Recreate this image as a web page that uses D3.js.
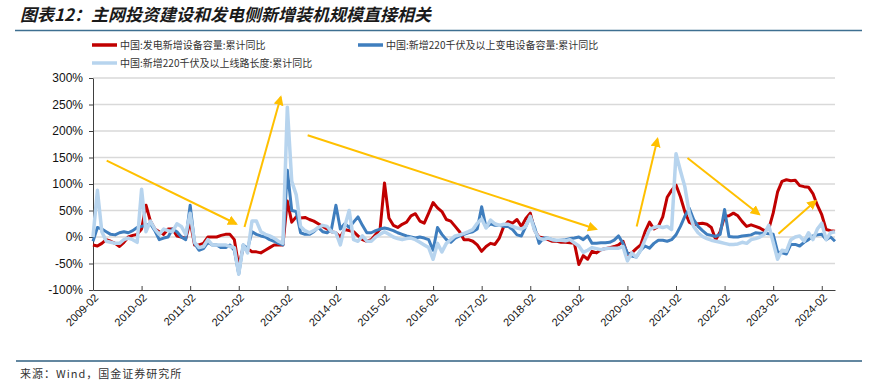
<!DOCTYPE html>
<html lang="zh">
<head>
<meta charset="UTF-8">
<title>图表12</title>
<script src="https://cdn.jsdelivr.net/npm/d3@7"></script>
<style>
body{margin:0;background:#fff;}
svg{display:block;font-family:"Liberation Sans",Arial,sans-serif;}
</style>
</head>
<body>
<div id="chart"></div>
<script>
// 月度累计同比(%)，每年2-12月（1月无数据）
var years=[2009,2010,2011,2012,2013,2014,2015,2016,2017,2018,2019,2020,2021,2022,2023,2024];
var months=["02","03","04","05","06","07","08","09","10","11","12"];
var yTicks=[-100,-50,0,50,100,150,200,250,300];

// 中国:发电新增设备容量:累计同比
var genYoY=[
 -15,-17,-12,-5,-8,-12,-18,-10,0,3,5,
 15,60,30,15,10,5,15,15,2,0,-3,
 30,-15,-15,-12,0,0,0,3,5,5,-5,
 -55,-20,-22,-28,-28,-30,-25,-20,-15,-15,-15,
 68,28,38,36,37,33,30,25,20,15,10,
 8,0,14,12,10,2,-5,-8,-5,5,15,
 102,36,22,18,24,28,40,44,30,26,45,
 65,55,48,33,30,20,10,-5,-5,-8,-15,
 -27,-18,-12,-14,-2,20,29,26,33,20,35,
 45,12,0,-2,-5,-8,-8,-10,-10,-11,-12,
 -52,-35,-42,-27,-30,-24,-22,-20,-18,-15,-8,
 -33,-30,-22,-15,10,28,15,20,38,75,88,
 98,76,48,28,23,25,26,24,18,-5,10,
 39,40,45,40,29,20,23,20,17,12,15,
 45,85,105,108,106,107,97,95,94,82,60,
 42,14,12,11
];
// 中国:新增220千伏及以上变电设备容量:累计同比
var subYoY=[
 -8,18,15,10,5,4,8,10,8,12,18,
 20,22,25,12,-5,-2,0,15,10,0,-5,
 60,-12,-25,-22,-10,-15,-15,-20,-20,-15,-25,
 -70,-15,-22,10,5,2,0,-5,-8,-12,-15,
 126,50,48,8,5,5,10,18,10,8,15,
 60,15,25,18,28,38,22,8,8,12,15,
 17,15,12,8,5,2,0,-2,0,-2,-5,
 -25,18,5,-5,-10,-2,2,5,8,10,15,
 57,18,25,22,22,20,20,14,4,2,20,
 39,18,-12,-2,-2,-5,-7,-6,-5,-3,-2,
 0,-5,2,-12,-12,-11,-11,-10,-6,2,-12,
 -30,-36,-38,-25,-17,-21,-12,-6,-6,-8,-5,
 4,20,39,54,33,20,12,5,3,1,5,
 52,1,0,0,2,3,4,8,7,7,6,
 5,-28,-30,-32,-14,-14,-17,-10,-5,2,4,
 5,-5,0,-8
];
// 中国:新增220千伏及以上线路长度:累计同比
var lineYoY=[
 0,88,10,-8,-10,-12,-12,-5,-2,-5,-10,
 90,10,30,15,5,15,12,10,25,20,5,
 45,-10,-20,-18,-5,-15,-15,-15,-15,-18,-20,
 -70,-15,-30,30,30,10,5,2,-2,-8,-12,
 245,105,80,20,12,8,12,18,22,20,10,
 8,-15,20,50,-5,-8,2,-8,-8,0,5,
 10,5,0,-3,-5,-3,-2,-5,-10,-15,-20,
 -42,-12,-28,-12,-5,2,4,7,10,14,26,
 34,17,32,25,22,24,24,20,17,15,20,
 39,12,-2,-5,-2,-5,-6,-6,-7,-5,-11,
 -17,-29,-25,-20,-22,-24,-22,-21,-21,-21,-18,
 -45,-30,-38,-25,-5,14,18,20,18,20,14,
 157,125,95,45,20,8,1,-3,-6,-8,-10,
 -12,-14,-14,-13,-10,-12,-5,-3,0,5,22,
 -10,-42,-25,-27,-5,0,2,-8,8,-5,15,
 26,-5,8,10
];

// 趋势箭头 [起点序号, 起点值, 终点序号, 终点值]
var arrows=[
 [3.1,144,32.4,25],
 [34.3,19,42.5,264],
 [48.6,192,113.9,15],
 [123.1,20,127.8,185],
 [134.6,149,150.8,43],
 [155.2,6,163.6,68]
];

var categories=[];
years.forEach(function(yr){
  months.forEach(function(m){ categories.push(yr+"-"+m); });
});
categories=categories.slice(0,genYoY.length);

var series=[
  {name:"中国:发电新增设备容量:累计同比",values:genYoY,color:"#C00000",w:3},
  {name:"中国:新增220千伏及以上变电设备容量:累计同比",values:subYoY,color:"#3F7EBE",w:3},
  {name:"中国:新增220千伏及以上线路长度:累计同比",values:lineYoY,color:"#B7D4EE",w:3.5}
];

var W=877,H=392;
var svg=d3.select("#chart").append("svg").attr("width",W).attr("height",H);

// 标题
svg.append("text")
  .attr("x",20).attr("y",21)
  .style("font-family","'Noto Sans CJK SC',sans-serif")
  .style("font-weight","bold").style("font-style","italic")
  .style("font-size","17px")
  .attr("fill","#1a1a1a")
  .text("图表12：主网投资建设和发电侧新增装机规模直接相关");
svg.append("line").attr("x1",15).attr("x2",862).attr("y1",30.5).attr("y2",30.5)
  .attr("stroke","#3E6F91").attr("stroke-width",1.5);

var x=d3.scaleLinear().domain([0,categories.length-1]).range([93,835]);
var y=d3.scaleLinear().domain([-100,300]).range([290,78]);

// 网格线
svg.append("g").selectAll("line")
  .data(yTicks.filter(function(d){return d>-100;}))
  .join("line")
  .attr("x1",93).attr("x2",835)
  .attr("y1",function(d){return y(d);}).attr("y2",function(d){return y(d);})
  .attr("stroke","#D9D9D9").attr("stroke-width",1.5);

// 坐标轴
var yAxis=svg.append("g").attr("transform","translate(93,0)")
  .call(d3.axisLeft(y).tickValues(yTicks).tickSize(4).tickSizeOuter(0).tickPadding(6)
    .tickFormat(function(d){return d+"%";}));
yAxis.selectAll("text").style("font-size","12px").attr("fill","#111");
yAxis.selectAll("line,path").attr("stroke","#404040");

var febIdx=[];
categories.forEach(function(c,i){ if(c.slice(5)==="02") febIdx.push(i); });
var xAxis=svg.append("g").attr("transform","translate(0,290)")
  .call(d3.axisBottom(x).tickValues(febIdx).tickSize(-4).tickSizeOuter(0)
    .tickFormat(function(i){return categories[i];}));
xAxis.selectAll("line,path").attr("stroke","#404040");
xAxis.selectAll("text")
  .style("font-size","11px").attr("fill","#111")
  .attr("text-anchor","end")
  .attr("x",-2).attr("y",6).attr("dy","0.35em")
  .attr("transform","rotate(-45)");

// 折线
var line=d3.line().x(function(d,i){return x(i);}).y(function(d){return y(d);});
svg.append("g").selectAll("path")
  .data(series).join("path")
  .attr("d",function(s){return line(s.values);})
  .attr("fill","none")
  .attr("stroke",function(s){return s.color;})
  .attr("stroke-width",function(s){return s.w;})
  .attr("stroke-linejoin","round");

// 箭头
svg.append("defs").append("marker")
  .attr("id","ah").attr("viewBox","0 0 10 10")
  .attr("refX",8).attr("refY",5)
  .attr("markerWidth",5).attr("markerHeight",5)
  .attr("markerUnits","strokeWidth")
  .attr("orient","auto")
  .append("path").attr("d","M0,0L10,5L0,10Z").attr("fill","#FFC000");
svg.append("g").selectAll("line")
  .data(arrows).join("line")
  .attr("x1",function(a){return x(a[0]);}).attr("y1",function(a){return y(a[1]);})
  .attr("x2",function(a){return x(a[2]);}).attr("y2",function(a){return y(a[3]);})
  .attr("stroke","#FFC000").attr("stroke-width",2)
  .attr("marker-end","url(#ah)");

// 图例
var legendPos=[[92,45],[358,45],[92,63]];
var lg=svg.append("g").selectAll("g")
  .data(series).join("g")
  .attr("transform",function(s,i){return "translate("+legendPos[i][0]+","+legendPos[i][1]+")";});
lg.append("line").attr("x1",0).attr("x2",25)
  .attr("stroke",function(s){return s.color;}).attr("stroke-width",3.5);
lg.append("text").attr("x",28).attr("dy","0.35em")
  .style("font-family","'Noto Sans CJK SC',sans-serif")
  .style("font-size","10px").attr("fill","#333")
  .text(function(s){return s.name;});

// 来源
svg.append("line").attr("x1",16).attr("x2",862).attr("y1",361).attr("y2",361)
  .attr("stroke","#2F5F80").attr("stroke-width",1.5);
svg.append("text").attr("x",20).attr("y",378)
  .style("font-family","'Noto Sans CJK SC',sans-serif")
  .style("font-size","11px").style("letter-spacing","1px").attr("fill","#333")
  .text("来源：Wind，国金证券研究所");
</script>
</body>
</html>
